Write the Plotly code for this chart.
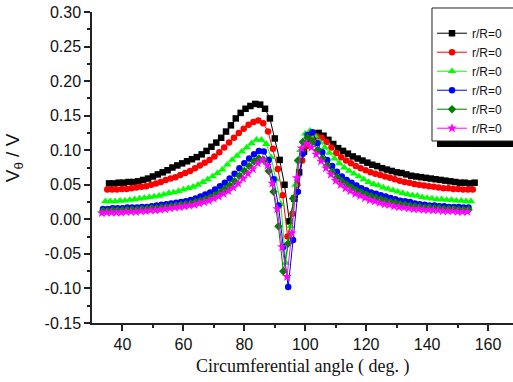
import plotly.graph_objects as go

step = 1.6
names = ["r/R=0", "r/R=0", "r/R=0", "r/R=0", "r/R=0", "r/R=0"]
starts = [35.6, 35.0, 34.4, 33.6, 33.6, 33.2]

black = [0.052, 0.052, 0.053, 0.053, 0.054, 0.054, 0.055, 0.057, 0.059, 0.062,
         0.065, 0.068, 0.071, 0.075, 0.078, 0.081, 0.084, 0.087, 0.090, 0.094,
         0.099, 0.105, 0.111, 0.118, 0.127, 0.136, 0.146, 0.154, 0.160, 0.164,
         0.167, 0.166, 0.160, 0.146, 0.117, 0.086, 0.050, -0.003, 0.030, 0.068,
         0.098, 0.115, 0.123, 0.125, 0.121, 0.115, 0.109, 0.103, 0.099, 0.095,
         0.091, 0.088, 0.085, 0.082, 0.079, 0.077, 0.074, 0.072, 0.070, 0.068,
         0.067, 0.065, 0.063, 0.062, 0.061, 0.060, 0.059, 0.058, 0.057, 0.056,
         0.055, 0.054, 0.053, 0.053, 0.052, 0.053]
red = [0.043, 0.043, 0.043, 0.044, 0.044, 0.045, 0.046, 0.047, 0.048, 0.050,
       0.052, 0.054, 0.057, 0.059, 0.061, 0.064, 0.067, 0.070, 0.074, 0.078,
       0.082, 0.086, 0.091, 0.097, 0.104, 0.111, 0.118, 0.125, 0.131, 0.137,
       0.141, 0.143, 0.139, 0.127, 0.102, 0.073, 0.035, -0.025, 0.008, 0.050,
       0.085, 0.106, 0.117, 0.120, 0.118, 0.112, 0.104, 0.096, 0.090, 0.085,
       0.081, 0.077, 0.074, 0.071, 0.068, 0.066, 0.064, 0.062, 0.060, 0.058,
       0.056, 0.054, 0.053, 0.051, 0.050, 0.049, 0.048, 0.047, 0.046, 0.045,
       0.045, 0.044, 0.044, 0.043, 0.043, 0.043]
green = [0.026, 0.026, 0.026, 0.027, 0.027, 0.028, 0.029, 0.030, 0.031, 0.032,
         0.033, 0.034, 0.036, 0.038, 0.039, 0.041, 0.043, 0.045, 0.047, 0.050,
         0.054, 0.058, 0.062, 0.067, 0.072, 0.079, 0.086, 0.092, 0.098, 0.104,
         0.110, 0.115, 0.115, 0.109, 0.090, 0.058, 0.022, -0.063, -0.010, 0.050,
         0.100, 0.124, 0.128, 0.121, 0.112, 0.104, 0.096, 0.088, 0.081, 0.075,
         0.070, 0.066, 0.062, 0.058, 0.054, 0.051, 0.049, 0.046, 0.044, 0.042,
         0.040, 0.038, 0.036, 0.035, 0.034, 0.032, 0.031, 0.030, 0.029, 0.029,
         0.028, 0.028, 0.027, 0.027, 0.026, 0.026]
blue = [0.015, 0.015, 0.016, 0.016, 0.016, 0.017, 0.017, 0.017, 0.018, 0.018,
        0.019, 0.020, 0.021, 0.022, 0.023, 0.024, 0.025, 0.026, 0.028, 0.030,
        0.033, 0.036, 0.039, 0.043, 0.048, 0.053, 0.059, 0.066, 0.074, 0.081,
        0.088, 0.094, 0.099, 0.098, 0.086, 0.058, 0.020, -0.040, -0.098, -0.030,
        0.040, 0.095, 0.122, 0.126, 0.110, 0.097, 0.086, 0.077, 0.069, 0.062,
        0.057, 0.053, 0.049, 0.045, 0.042, 0.039, 0.037, 0.035, 0.033, 0.031,
        0.029, 0.027, 0.026, 0.025, 0.023, 0.022, 0.021, 0.020, 0.020, 0.019,
        0.019, 0.018, 0.018, 0.018, 0.017, 0.017]
dkgreen = [0.012, 0.012, 0.013, 0.013, 0.013, 0.014, 0.014, 0.014, 0.015, 0.015,
           0.016, 0.016, 0.017, 0.018, 0.019, 0.020, 0.021, 0.022, 0.023, 0.025,
           0.027, 0.029, 0.032, 0.035, 0.039, 0.044, 0.049, 0.055, 0.063, 0.070,
           0.077, 0.084, 0.088, 0.086, 0.070, 0.040, -0.010, -0.075, -0.035, 0.030,
           0.085, 0.112, 0.118, 0.112, 0.100, 0.088, 0.078, 0.069, 0.061, 0.055,
           0.050, 0.046, 0.042, 0.039, 0.036, 0.033, 0.031, 0.029, 0.027, 0.025,
           0.024, 0.022, 0.021, 0.020, 0.019, 0.018, 0.017, 0.017, 0.016, 0.016,
           0.015, 0.015, 0.015, 0.014, 0.014, 0.014]
magenta = [0.009, 0.010, 0.010, 0.010, 0.010, 0.011, 0.011, 0.011, 0.012, 0.012,
           0.013, 0.013, 0.014, 0.015, 0.016, 0.017, 0.018, 0.019, 0.020, 0.021,
           0.023, 0.025, 0.027, 0.030, 0.033, 0.037, 0.041, 0.046, 0.052, 0.059,
           0.066, 0.073, 0.081, 0.086, 0.078, 0.052, 0.015, -0.040, -0.083, -0.020,
           0.060, 0.103, 0.110, 0.104, 0.094, 0.084, 0.074, 0.065, 0.056, 0.050,
           0.045, 0.041, 0.037, 0.034, 0.031, 0.028, 0.026, 0.024, 0.022, 0.021,
           0.019, 0.018, 0.017, 0.016, 0.015, 0.015, 0.014, 0.014, 0.013, 0.013,
           0.012, 0.012, 0.012, 0.011, 0.011, 0.011]

series = [black, red, green, blue, dkgreen, magenta]
colors = ["#000000", "#FF0000", "#00FF00", "#0000FF", "#008000", "#FF00FF"]
symbols = ["square", "circle", "triangle-up", "circle", "diamond", "star"]
sizes = [6.5, 6.5, 7.5, 6.5, 6.5, 7.5]

x_ticks = [40, 60, 80, 100, 120, 140, 160]
y_ticks = [-0.15, -0.10, -0.05, 0.00, 0.05, 0.10, 0.15, 0.20, 0.25, 0.30]

fig = go.Figure()
for vals, st, nm, c, sym, sz in zip(series, starts, names, colors, symbols, sizes):
    xs = [round(st + step * i, 2) for i in range(len(vals))]
    fig.add_trace(go.Scatter(
        x=xs, y=vals, name=nm, mode="lines+markers",
        line=dict(color=c, width=1),
        marker=dict(symbol=sym, size=sz, color=c, line=dict(width=0)),
    ))

axis_col = "#222222"
fig.update_xaxes(
    range=[30, 168.2], tickvals=x_ticks, ticktext=[str(v) for v in x_ticks],
    showgrid=False, zeroline=False, showline=True, linecolor=axis_col, linewidth=1.5,
    ticks="outside", ticklen=6, tickwidth=1.5, tickcolor=axis_col,
    minor=dict(tickvals=[50, 70, 90, 110, 130, 150], ticks="outside", ticklen=3,
               tickwidth=1.5, tickcolor=axis_col),
    tickfont=dict(family="Arial, Liberation Sans", size=16, color="#111"),
)
fig.update_yaxes(
    range=[-0.15, 0.30], tickvals=y_ticks, ticktext=["%.2f" % v for v in y_ticks],
    showgrid=False, zeroline=False, showline=True, linecolor=axis_col, linewidth=1.5,
    ticks="outside", ticklen=6, tickwidth=1.5, tickcolor=axis_col,
    minor=dict(tickvals=[-0.125, -0.075, -0.025, 0.025, 0.075, 0.125, 0.175, 0.225, 0.275],
               ticks="outside", ticklen=3, tickwidth=1.5, tickcolor=axis_col),
    tickfont=dict(family="Arial, Liberation Sans", size=16, color="#111"),
)

# legend frame with drop shadow (legend itself is drawn on top, transparent)
fig.add_shape(type="rect", xref="paper", yref="paper",
              x0=0.8195, x1=1.05, y0=0.5659, y1=0.9936,
              fillcolor="black", line=dict(width=0), layer="above")
fig.add_shape(type="rect", xref="paper", yref="paper",
              x0=0.8076, x1=1.05, y0=0.5852, y1=1.0129,
              fillcolor="white", line=dict(color="#222", width=1), layer="above")

fig.update_layout(
    width=513, height=382,
    margin=dict(l=92, r=0, t=12, b=59, autoexpand=False),
    paper_bgcolor="white", plot_bgcolor="white",
    showlegend=True,
    legend=dict(x=0.8076, y=0.9784, xanchor="left", yanchor="top",
                bgcolor="rgba(0,0,0,0)", borderwidth=0,
                font=dict(family="Arial, Liberation Sans", size=12, color="#111"),
                tracegroupgap=0, itemwidth=30),
    annotations=[
        dict(text="Circumferential angle ( deg. )", xref="paper", yref="paper",
             x=0.5, y=-0.139, xanchor="center", yanchor="middle", showarrow=False,
             font=dict(family="Liberation Serif, Times New Roman", size=18, color="#111")),
        dict(text="V<sub>θ</sub> / V", xref="paper", yref="paper",
             x=-0.185, y=0.53, xanchor="center", yanchor="middle", showarrow=False,
             textangle=-90,
             font=dict(family="Arial, Liberation Sans", size=19, color="#111")),
    ],
)

fig.write_html("out.html")
